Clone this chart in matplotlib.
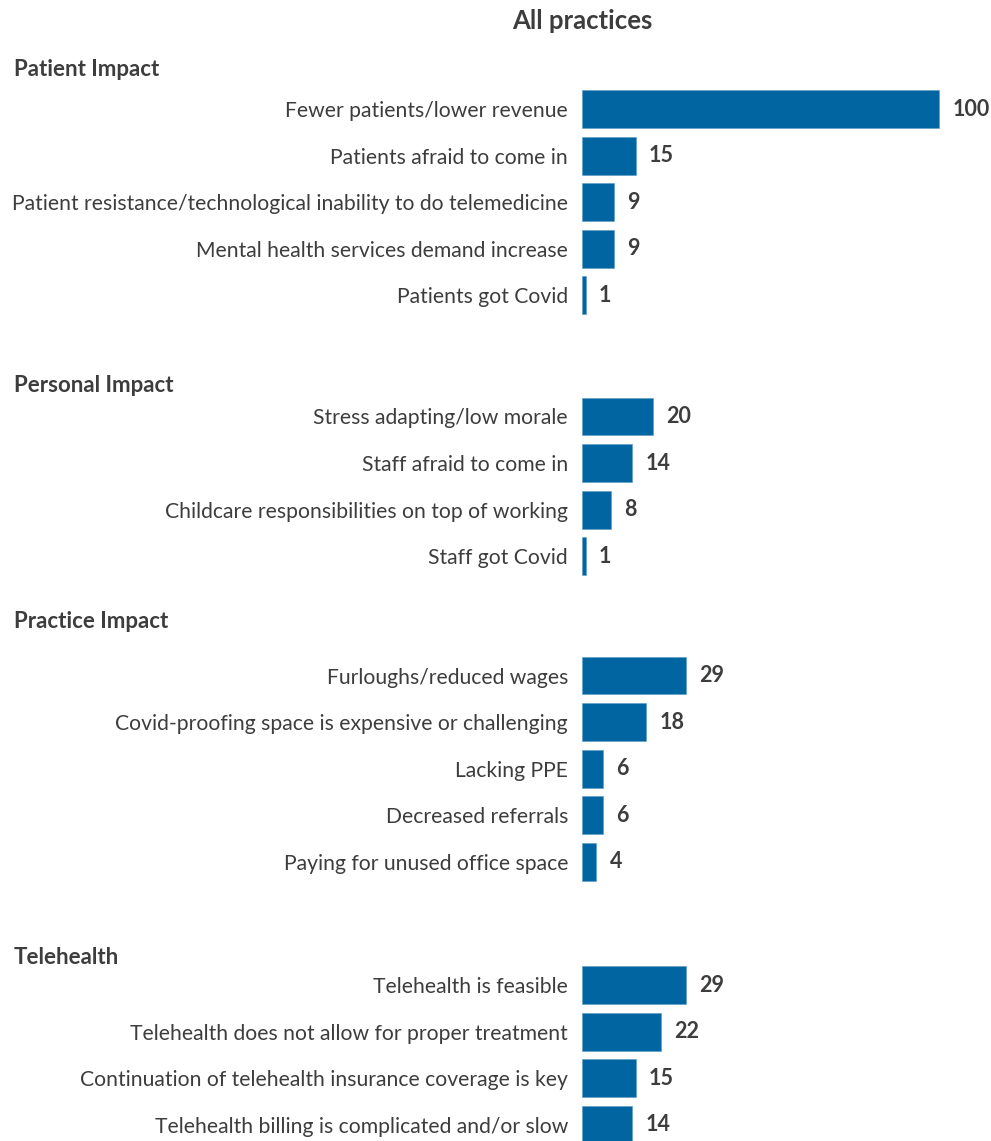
import matplotlib
matplotlib.use("Agg")
import matplotlib.pyplot as plt

plt.rcParams["font.family"] = ["Lato", "DejaVu Sans"]

patient_labels = ["Fewer patients/lower revenue", "Patients afraid to come in",
                  "Patient resistance/technological inability to do telemedicine",
                  "Mental health services demand increase", "Patients got Covid"]
patient_values = [100, 15, 9, 9, 1]

personal_labels = ["Stress adapting/low morale", "Staff afraid to come in",
                   "Childcare responsibilities on top of working", "Staff got Covid"]
personal_values = [20, 14, 8, 1]

practice_labels = ["Furloughs/reduced wages", "Covid-proofing space is expensive or challenging",
                   "Lacking PPE", "Decreased referrals", "Paying for unused office space"]
practice_values = [29, 18, 6, 6, 4]

tele_labels = ["Telehealth is feasible", "Telehealth does not allow for proper treatment",
               "Continuation of telehealth insurance coverage is key",
               "Telehealth billing is complicated and/or slow"]
tele_values = [29, 22, 15, 14]

group_names = ["Patient Impact", "Personal Impact", "Practice Impact", "Telehealth"]

W, H = 991, 1141
BAR = "#0065a0"
TXT = "#3d3d3d"
pitch = 46.6          # px between bar centres
px_per_unit = 3.57
bar_left = 582

fig = plt.figure(figsize=(W / 100, H / 100), dpi=100)

groups = [
    (patient_labels, patient_values, 109, 69),
    (personal_labels, personal_values, 416.5, 385),
    (practice_labels, practice_values, 675.5, 622),
    (tele_labels, tele_values, 985, 958),
]

for name, (labels, values, first_y, title_y) in zip(group_names, groups):
    n = len(values)
    top = first_y - pitch / 2
    h = n * pitch
    ax = fig.add_axes([bar_left / W, 1 - (top + h) / H, (W - bar_left) / W, h / H])
    ax.barh(range(n), values, height=0.815, color=BAR, edgecolor="#5b9ac4", linewidth=0.4)
    ax.set_xlim(0, (W - bar_left) / px_per_unit)
    ax.set_ylim(n - 0.5, -0.5)
    ax.set_yticks(range(n))
    ax.set_yticklabels(labels, fontsize=15.2, color=TXT)
    ax.tick_params(axis="y", length=0, pad=10)
    ax.set_xticks([])
    for s in ax.spines.values():
        s.set_visible(False)
    for i, v in enumerate(values):
        ax.annotate(str(v), (v, i), xytext=(9.5, 0), textcoords="offset points",
                    va="center", ha="left", fontsize=15.5, fontweight="bold",
                    color=TXT, annotation_clip=False)
    fig.text(14 / W, 1 - title_y / H, name, fontsize=16, fontweight="bold",
             color=TXT, va="center", ha="left")

fig.text(582 / W, 1 - 21 / H, "All practices", fontsize=18.5, fontweight="bold",
         color=TXT, va="center", ha="center")

fig.savefig("out.png", dpi=100, facecolor="white")
